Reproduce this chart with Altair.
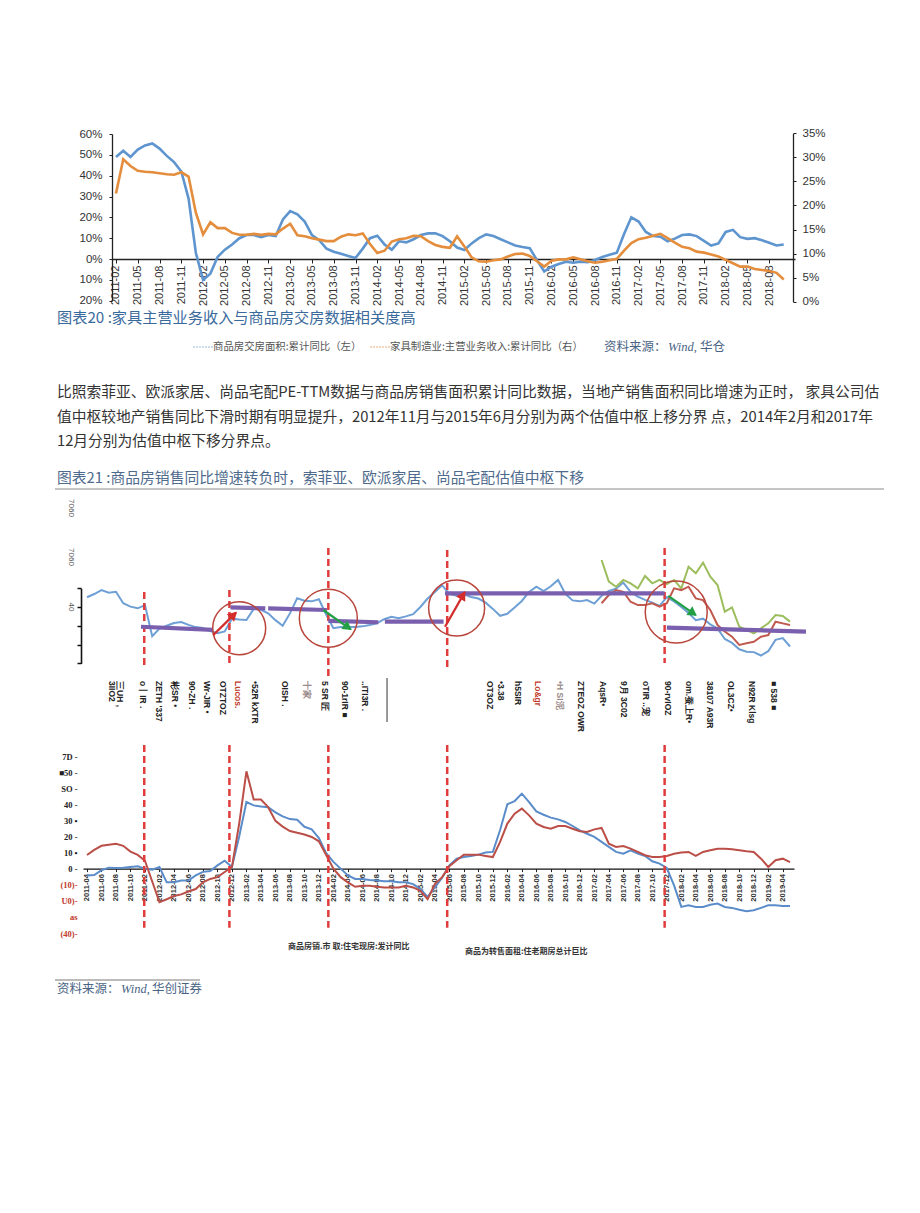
import json
import math
import altair as alt
import pandas as pd

W, H = 904, 1197
MARGIN = 8


def px(v):
    """page coordinate -> plot coordinate"""
    return v - MARGIN


CJK = "Noto Sans CJK SC"
SANS = "Liberation Sans"
SERIF = "Liberation Serif"

# ------------------------------------------------------------------ data: 图表20
top_months = []
for _y in range(2011, 2019):
    for _m in range(1, 13):
        _s = f"{_y}-{_m:02d}"
        if "2011-02" <= _s <= "2018-11":
            top_months.append(_s)
top_ticks = top_months[0:91:3]

# 商品房交房面积:累计同比 (左, %)
top_blue = [
    49, 52, 49, 52.5, 54.5, 55.5, 53, 49.5, 46.5, 42,
    29, 3, -10, -7, 1, 4.5, 7, 10, 11.5, 11.5,
    10.5, 11.5, 11, 19, 23, 21.5, 18, 11.5, 9, 5,
    3.5, 2.5, 1.5, 0.5, 5, 10, 11.2, 7, 4.5, 8.5,
    8, 9.5, 11.5, 12.3, 12.3, 11, 8.5, 5.5, 4.3, 7.5,
    10, 11.8, 11, 9.5, 8, 6.5, 5.8, 5.2, -0.5, -6,
    -3.7, -2.4, -1.3, -1.8, -1.3, -1.5, -0.5, 1, 2, 3,
    12, 20, 18, 13, 11, 10.7, 8.5, 9.8, 11.5, 11.8,
    11, 8.7, 6.5, 7.5, 13, 14, 10.5, 9.7, 10, 9,
    7.8, 6.5, 7,
]
# 家具制造业:主营业务收入:累计同比 (右, %)
top_orange = [
    22.5, 29.6, 28.2, 27.2, 27, 26.9, 26.7, 26.5, 26.4, 26.9,
    26, 18.5, 14, 16.5, 15.3, 15.3, 14.3, 13.9, 13.9, 14.1,
    13.9, 14.1, 14, 15.2, 16.2, 13.8, 13.6, 13.2, 12.9, 12.6,
    12.6, 13.5, 14, 13.8, 14.2, 12, 10.1, 10.6, 12.5, 13,
    13.2, 13.7, 13.6, 12.6, 11.8, 11.4, 11.2, 13.6, 11.5, 9.2,
    8.4, 8.3, 8.6, 8.8, 9.4, 9.9, 10, 9.5, 8.4, 7.3,
    8.5, 8.8, 8.8, 9.2, 8.8, 8.4, 8.1, 8.3, 8.6, 8.9,
    10.6, 12.2, 13, 13.3, 13.7, 14.1, 13.2, 12.3, 11.4, 11.1,
    10.4, 10.2, 9.8, 9.4, 8.7, 8, 7.3, 7.3, 6.8, 6.6,
    6.4, 6.0, 4.6,
]
top_left_ticks = [-20, -10, 0, 10, 20, 30, 40, 50, 60]
top_right_ticks = [0, 5, 10, 15, 20, 25, 30, 35]

# ------------------------------------------------------------------ data: 图表21
mb_months = []
for _y in range(2011, 2020):
    for _m in range(1, 13):
        _s = f"{_y}-{_m:02d}"
        if "2011-04" <= _s <= "2019-05":
            mb_months.append(_s)
mb_ticks = list(range(0, 97, 2))

# PE-TTM (upper panel)
mid_blue = [
    45.2, 46.9, 49, 47.6, 48.1, 42, 40.2, 39.3, 41, 24.5,
    28.5, 30, 31.5, 32, 30.5, 29.3, 28.8, 27.2, 26, 27,
    33.8, 33.3, 33.1, 39, 38.5, 36.6, 33, 30, 36.6, 44.6,
    43.3, 43, 44.1, 36, 28.7, 29.3, 29.3, 29.3, 29.7, 30.4,
    31.3, 33.5, 34.8, 34, 35, 36.2, 40, 44.5, 48, 51.5,
    47, 46, 46.8, 45.3, 44.5, 42.3, 39, 35.3, 36.4, 39.8,
    43.2, 48, 50.8, 48.5, 51, 54.4, 47, 43.5, 43, 43.7,
    41.8, 46, 48.5, 49.8, 53, 48, 45.5, 43.8, 42.3, 40.6,
    45.3, 43, 40, 36.8, 33, 33.8, 30.8, 28.6, 23, 20.9,
    17.5, 16.2, 16, 14.2, 16.5, 22.5, 23.5, 19,
]
mid_green = [None] * 71 + [
    65, 53.5, 50.8, 54.4, 52.6, 49.9, 56.5, 52.6, 54.4, 52.2,
    54.4, 49.9, 61.4, 57.9, 63.6, 56.1, 51.7, 37.5, 39.8, 29.5,
    27.8, 26, 28.7, 31.3, 35.7, 35.2, 32.2,
]
mid_brown = [None] * 71 + [
    42, 46.4, 49, 48.1, 42.8, 41, 41, 42, 40.2, 42,
    49.9, 49, 50.8, 44.6, 43.7, 38.4, 30.4, 27, 24.2, 19.8,
    20.7, 21.5, 24.2, 25.1, 32.2, 31.3, 30.4,
]
# valuation-centre segments (month index start/end, level start/end)
seg_start = [7.45, 19.8, 25.0, 33.3, 41.1, 49.4, 80.0]
seg_end = [17.4, 24.6, 33.1, 40.2, 49.2, 79.7, 99.2]
seg_v0 = [29.5, 39.8, 39.3, 32.6, 32.2, 47.3, 29.0]
seg_v1 = [27.8, 39.3, 38.4, 31.9, 32.2, 47.3, 26.9]
# dashed boundary lines (month index) and their extents
vline_pos = [7.9, 19.65, 33.3, 49.7, 79.7]
vline_mid_top = [48.0, 49.0, 71.4, 70.3, 71.4]
vline_mid_bot = [8.1, 10.2, 2.8, 8.1, 10.2]
vline_bot_top = [76.8, 76.8, 76.8, 76.8, 76.8]
vline_bot_bot = [-36.8, -36.8, -36.8, -36.8, -36.8]
# circles (month index, level)
circ_i = [21.0, 33.3, 51.0, 81.3]
circ_v = [28.7, 34.0, 39.5, 37.3]
# arrows (tail -> tip)
arr_i0 = [17.43, 49.4, 32.6, 80.2]
arr_v0 = [25.1, 29.5, 38.4, 45.9]
arr_i1 = [20.56, 52.15, 36.4, 84.0]
arr_v1 = [37.0, 48.1, 28.1, 35.7]
# garbled axis labels of the upper panel
mid_label_text = [
    "3IIO2", "三UH ,", "o丨IR .", "ZETH '337", "彬SR •", "90-ZH .", "Wr-JIR •",
    "OTZTOZ", "Lucos.", "•52R kXTR", "OISH   .", "十家", "5 SR 匠", "90-1rIR ■",
    "..ITI3R .",
    "OT3OZ", "•3.38", "h5SIR", "Lo&gr", "•H SI泥", "ZTEOZ OWR", "AqsR•",
    "9月  3C02", "oTIR ..宠", "90-rvIOZ", "om.蚕上R•", "38107 A93R", "OL3CZ•",
    "N92R Klsg", "■ 538 ■",
]
mid_label_pos = [
    3.4, 4.6, 7.7, 10.0, 12.2, 14.5, 16.5, 18.8, 20.9, 23.2, 27.3, 30.3, 32.9,
    35.6, 38.4,
    55.6, 57.1, 59.4, 62.2, 65.2, 68.1, 71.2, 74.1, 77.1, 80.1, 83.1, 86.0,
    88.8, 91.8, 94.8,
]
mid_side_text = ["7060", "7060", "40"]
mid_side_val = [92.7, 66.6, 40]
mid_sep_pos = [41.4]

# 商品房销售面积 (lower panel)
bot_blue = [
    -4.2, -4, -1, 0.6, 0.4, 0.6, 1, 1.5, 0, -0.6,
    1, -8.5, -8.5, -7.4, -7.4, -4.2, -2, -1.5, 2, 4.9,
    1, 20, 41.4, 39.3, 38.6, 38.2, 35, 32.5, 30.8, 30.4,
    26, 24.4, 19, 9.6, 4.2, 0, -4.2, -6.4, -6.4, -7,
    -7.4, -7.9, -7.9, -8.5, -8.5, -9.6, -12.7, -17.6, -11.7, -5.7,
    2, 6.2, 7.2, 7.9, 8.7, 10, 10.4, 24, 40, 42,
    46.6, 41.4, 35.6, 33.5, 31.7, 30.6, 29, 26.5, 23.8, 21.7,
    19.7, 16.6, 13.5, 10.4, 9.3, 11.4, 9.3, 7.9, 4.6, 3.1,
    0.4, -10.4, -23.8, -22.8, -23.8, -23.8, -22.4, -21.7, -23.8, -24.4,
    -25.5, -26.5, -25.9, -24.4, -22.8, -22.8, -23.2, -23.2,
]
bot_red = [
    8.5, 11.7, 14.2, 14.9, 15.5, 14.2, 10.6, 8.5, 4.9, -8,
    -20.8, -19, -17, -16, -14.2, -12.7, -8.5, -6.4, -5.3, -2.1,
    1, 28, 60.5, 42.9, 42.9, 38.2, 29.7, 26.1, 23.4, 22.3,
    21.2, 19.7, 17, 8.5, 0, -5.3, -8.5, -11.3, -10.6, -10.6,
    -11.3, -11.7, -11.7, -11.7, -10.6, -11.7, -13.8, -19, -9.6, -5.3,
    1.5, 5.2, 8.7, 8.7, 8.7, 7.9, 7.2, 16.6, 28, 34.2,
    37.3, 33.1, 28, 25.9, 24.8, 26.5, 26.5, 24.8, 23.2, 22.8,
    24.4, 25.3, 15.5, 13.5, 14.1, 12.4, 10.4, 8.3, 7.2, 7.2,
    7.9, 9.3, 10, 10.4, 7.9, 10.4, 11.4, 12.4, 12.4, 12,
    11.4, 10.8, 10.4, 6.2, 1, 5.2, 6.2, 4.1,
]
bot_y_ticks = [70, 60, 50, 40, 30, 20, 10, 0, -10, -20, -30, -40]
bot_y_labels = ["7D -", "■50 -", "SO -", "40 -", "30 •", "20 -", "10 •", "0 -",
                "(10)-", "U0)-", "as", "(40)-"]

# ------------------------------------------------------------------ styles
C_TOP_BLUE = "#5f95cf"
C_TOP_ORANGE = "#e48d3c"
C_MID_BLUE = "#6e9fd5"
C_GREEN = "#9cbd5c"
C_BROWN = "#c05a4e"
C_PURPLE = "#7a5fae"
C_DASH = "#e03c3c"
C_CIRCLE = "#b8463c"
C_BOT_BLUE = "#5b8cca"
C_BOT_RED = "#bb4f48"
CIRCLE_DIAM = [53, 58, 56, 62]
ARROW_COLORS = ["#d42b2b", "#d42b2b", "#23a046", "#23a046"]
RED_LABELS = {"Lucos.", "Lo&gr"}
GRAY_LABELS = {"十家", "•H SI泥"}

XS_TOP = alt.Scale(type="point", domain=top_months, range=[px(112), px(795)], padding=0.55)
YL_TOP = alt.Scale(domain=[-20, 60], range=[px(300.7), px(134)], nice=False, zero=False)
YR_TOP = alt.Scale(domain=[0, 35], range=[px(301.7), px(133.3)], nice=False, zero=False)
XS_MB = alt.Scale(domain=[-0.55, 97.55], range=[px(83), px(794)], nice=False, zero=False)
YS_MID = alt.Scale(domain=[10, 50], range=[px(663.4), px(588.2)], nice=False, zero=False)
YS_BOT = alt.Scale(domain=[-40, 70], range=[px(933), px(756)], nice=False, zero=False)

PX_PER_MONTH = (794 - 83) / 98.1
PX_PER_UNIT_MID = (663.4 - 588.2) / 40


def txt(s, x, y, size, color="#333333", font=CJK, weight="normal", style=None,
        align="left", baseline="middle", angle=None):
    mk = dict(align=align, baseline=baseline, fontSize=size, font=font,
              color=color, fontWeight=weight)
    if style:
        mk["fontStyle"] = style
    if angle is not None:
        mk["angle"] = angle
    return alt.Chart(pd.DataFrame({"t": [s]})).mark_text(**mk).encode(
        x=alt.value(px(x)), y=alt.value(px(y)), text="t:N")


def hline(x1, x2, y, color, width=1.0, dash=None):
    mk = dict(color=color, strokeWidth=width)
    if dash:
        mk["strokeDash"] = dash
    return alt.Chart(pd.DataFrame({"a": [0]})).mark_rule(**mk).encode(
        x=alt.value(px(x1)), x2=alt.value(px(x2)), y=alt.value(px(y)))


# ------------------------------------------------------------------ chart 20
df_top = pd.DataFrame({"month": top_months[:len(top_blue)], "blue": top_blue,
                       "orange": top_orange})

top_x_axis = alt.Axis(orient="bottom", offset=-(H - px(259)), values=top_ticks,
                      labelAngle=270, labelFontSize=11, labelFont=SANS,
                      labelColor="#333333", tickSize=4, tickColor="#222222",
                      domainColor="#222222", domainWidth=1.3, labelPadding=2,
                      title=None, grid=False, labelOverlap=False)
top_left_axis = alt.Axis(orient="left", offset=-px(112), values=top_left_ticks,
                         labelExpr="abs(datum.value) + '%'", labelFontSize=11.5,
                         labelFont=SANS, labelColor="#333333", tickSize=3,
                         tickColor="#222222", domainColor="#222222", domainWidth=1.3,
                         labelPadding=7, title=None, grid=False, labelOverlap=False)
top_right_axis = alt.Axis(orient="right", offset=-(W - px(793)), values=top_right_ticks,
                          labelExpr="datum.value + '%'", labelFontSize=11.5,
                          labelFont=SANS, labelColor="#333333", tickSize=3,
                          tickColor="#222222", domainColor="#222222", domainWidth=1.3,
                          labelPadding=6, title=None, grid=False, labelOverlap=False)

top_layers = [
    # x axis carried by an invisible helper layer so it is drawn once
    alt.Chart(df_top).mark_line(color=C_TOP_BLUE, strokeWidth=2.6).encode(
        x=alt.X("month:O", scale=XS_TOP, axis=top_x_axis),
        y=alt.Y("blue:Q", scale=YL_TOP, axis=top_left_axis)),
    alt.Chart(df_top).mark_line(color=C_TOP_ORANGE, strokeWidth=2.6).encode(
        x=alt.X("month:O", scale=XS_TOP, axis=None),
        y=alt.Y("orange:Q", scale=YR_TOP, axis=top_right_axis)),
]

# ------------------------------------------------------------------ chart 21 upper
df_mid = pd.DataFrame({"i": list(range(len(mb_months))), "blue": mid_blue,
                       "green": mid_green, "brown": mid_brown})
mid_y_axis = alt.Axis(orient="left", offset=-px(81), values=[10, 20, 30, 40, 50],
                      labels=False, tickSize=4, tickColor="#111111", tickWidth=1.5,
                      domainColor="#111111", domainWidth=1.6, title=None, grid=False)

X_MID = alt.X("i:Q", scale=XS_MB, axis=None)

mid_layers = []
mid_layers.append(alt.Chart(df_mid).mark_line(color=C_MID_BLUE, strokeWidth=2).encode(
    x=X_MID, y=alt.Y("blue:Q", scale=YS_MID, axis=mid_y_axis)))
mid_layers.append(alt.Chart(df_mid).mark_line(color=C_GREEN, strokeWidth=2).encode(
    x=X_MID, y=alt.Y("green:Q", scale=YS_MID, axis=None)))
mid_layers.append(alt.Chart(df_mid).mark_line(color=C_BROWN, strokeWidth=2).encode(
    x=X_MID, y=alt.Y("brown:Q", scale=YS_MID, axis=None)))

df_vl = pd.DataFrame({"i": vline_pos, "mt": vline_mid_top, "mb": vline_mid_bot,
                      "bt": vline_bot_top, "bb": vline_bot_bot})
mid_layers.append(alt.Chart(df_vl).mark_rule(color=C_DASH, strokeWidth=2.5,
                                              strokeDash=[7, 4]).encode(
    x=X_MID, y=alt.Y("mt:Q", scale=YS_MID, axis=None), y2="mb:Q"))

df_seg = pd.DataFrame({"s": seg_start, "e": seg_end, "v0": seg_v0, "v1": seg_v1})
mid_layers.append(alt.Chart(df_seg).mark_rule(color=C_PURPLE, strokeWidth=4.2).encode(
    x=alt.X("s:Q", scale=XS_MB, axis=None), x2="e:Q",
    y=alt.Y("v0:Q", scale=YS_MID, axis=None), y2="v1:Q"))

for ci, cv, d in zip(circ_i, circ_v, CIRCLE_DIAM):
    mid_layers.append(alt.Chart(pd.DataFrame({"i": [ci], "v": [cv]})).mark_point(
        shape="circle", filled=False, color=C_CIRCLE, strokeWidth=1.5, opacity=1,
        size=d * d).encode(x=X_MID, y=alt.Y("v:Q", scale=YS_MID, axis=None)))

df_arr = pd.DataFrame({"i0": arr_i0, "v0": arr_v0, "i1": arr_i1, "v1": arr_v1})
df_arr["c"] = ARROW_COLORS
_ang, _hi, _hv = [], [], []
for a0, b0, a1, b1 in zip(arr_i0, arr_v0, arr_i1, arr_v1):
    dx = (a1 - a0) * PX_PER_MONTH
    dy = -(b1 - b0) * PX_PER_UNIT_MID
    _ang.append(math.degrees(math.atan2(dx, -dy)) % 360)
    _hi.append(a0 + 0.9 * (a1 - a0))
    _hv.append(b0 + 0.9 * (b1 - b0))
df_arr["ang"] = _ang
df_arr["hi"] = _hi
df_arr["hv"] = _hv
mid_layers.append(alt.Chart(df_arr).mark_rule(strokeWidth=2.3).encode(
    x=alt.X("i0:Q", scale=XS_MB, axis=None), x2="i1:Q",
    y=alt.Y("v0:Q", scale=YS_MID, axis=None), y2="v1:Q",
    color=alt.Color("c:N", scale=None)))
mid_layers.append(alt.Chart(df_arr).mark_point(shape="triangle-up", filled=True,
                                                size=110, opacity=1).encode(
    x=alt.X("hi:Q", scale=XS_MB, axis=None),
    y=alt.Y("hv:Q", scale=YS_MID, axis=None),
    angle=alt.Angle("ang:Q", scale=None),
    color=alt.Color("c:N", scale=None)))

_lab_colors = ["#c0392b" if t in RED_LABELS else ("#9a8a8a" if t in GRAY_LABELS else "#222222")
               for t in mid_label_text]
df_lab = pd.DataFrame({"t": mid_label_text, "i": mid_label_pos, "c": _lab_colors})
mid_layers.append(alt.Chart(df_lab).mark_text(angle=90, align="left", baseline="middle",
                                               fontSize=8.5, fontWeight="bold",
                                               font=SANS).encode(
    x=X_MID, y=alt.value(px(681)), text="t:N", color=alt.Color("c:N", scale=None)))
mid_layers.append(alt.Chart(pd.DataFrame({"i": mid_sep_pos})).mark_rule(
    color="#333333", strokeWidth=1).encode(
    x=X_MID, y=alt.value(px(678)), y2=alt.value(px(722))))
df_side = pd.DataFrame({"t": mid_side_text, "v": mid_side_val})
mid_layers.append(alt.Chart(df_side).mark_text(angle=90, align="center", baseline="middle",
                                                fontSize=8, font=SANS,
                                                color="#555555").encode(
    x=alt.value(px(71)), y=alt.Y("v:Q", scale=YS_MID, axis=None), text="t:N"))

# ------------------------------------------------------------------ chart 21 lower
df_bot = pd.DataFrame({"i": list(range(len(mb_months))), "blue": bot_blue, "red": bot_red})

_lbl_expr = "''"
for v, s in zip(reversed(bot_y_ticks), reversed(bot_y_labels)):
    _lbl_expr = f"datum.value == {v} ? {json.dumps(s)} : ({_lbl_expr})"

bot_x_axis = alt.Axis(orient="bottom", offset=-(H - px(868.6)), values=mb_ticks,
                      labelExpr=f"{json.dumps(mb_months)}[datum.value]",
                      labelAngle=270, labelFontSize=7.5, labelFontWeight="bold",
                      labelFont=SANS, labelColor="#333333", tickSize=3,
                      tickColor="#222222", domainColor="#111111", domainWidth=1.3,
                      labelPadding=2, title=None, grid=False, labelOverlap=False,
                      labelFlush=False)
bot_y_axis = alt.Axis(orient="left", offset=-px(79), values=bot_y_ticks,
                      labelExpr=_lbl_expr, labelFontSize=8.5, labelFontWeight="bold",
                      labelFont=SERIF,
                      labelColor={"condition": {"test": "datum.value < 0",
                                                "value": "#c0392b"},
                                  "value": "#222222"},
                      domain=False, ticks=False, labelPadding=2, title=None,
                      grid=False, labelOverlap=False)

bot_layers = [
    alt.Chart(df_bot).mark_line(color=C_BOT_BLUE, strokeWidth=2).encode(
        x=alt.X("i:Q", scale=XS_MB, axis=bot_x_axis),
        y=alt.Y("blue:Q", scale=YS_BOT, axis=bot_y_axis)),
    alt.Chart(df_bot).mark_line(color=C_BOT_RED, strokeWidth=2).encode(
        x=alt.X("i:Q", scale=XS_MB, axis=None),
        y=alt.Y("red:Q", scale=YS_BOT, axis=None)),
    alt.Chart(df_vl).mark_rule(color=C_DASH, strokeWidth=2.5, strokeDash=[7, 4]).encode(
        x=alt.X("i:Q", scale=XS_MB, axis=None),
        y=alt.Y("bt:Q", scale=YS_BOT, axis=None), y2="bb:Q"),
]

# ------------------------------------------------------------------ page text
page = [
    txt("图表20 :家具主营业务收入与商品房交房数据相关度高", 57, 318, 15.2, "#3a6a9c"),
    hline(193, 213, 347, "#9dbadb", 1.2, [2, 1]),
    txt("商品房交房面积:累计同比（左）", 213, 347, 10.4, "#555555"),
    hline(370, 390, 347, "#e8ae7c", 1.2, [2, 1]),
    txt("家具制造业:主营业务收入:累计同比（右）", 390, 347, 10.4, "#555555"),
    txt("资料来源：", 604, 347, 12.5, "#4a6484"),
    txt("Wind,", 668, 347, 12.5, "#4a6484", font=SERIF, style="italic"),
    txt("华仓", 700, 347, 12.5, "#4a6484"),
    txt("比照索菲亚、欧派家居、尚品宅配PE-TTM数据与商品房销售面积累计同比数据，当地产销售面积同比增速为正时， 家具公司估",
        57, 393, 14.75, "#333333"),
    txt("值中枢较地产销售同比下滑时期有明显提升，2012年11月与2015年6月分别为两个估值中枢上移分界 点，2014年2月和2017年",
        57, 418, 14.75, "#333333"),
    txt("12月分别为估值中枢下移分界点。", 57, 442, 14.75, "#333333"),
    txt("图表21 :商品房销售同比增速转负时，索菲亚、欧派家居、尚品宅配估值中枢下移", 57, 479, 14.8,
        "#4e6a8c"),
    hline(55, 884, 489, "#8a8a8a", 1),
    txt("商品房销.市 取:住宅现房:发计同比", 288, 947, 8, "#333333", weight="bold"),
    txt("商品为转售面租:住老期房总计巨比", 465, 952, 8, "#333333", weight="bold"),
    hline(55, 200, 980, "#777777", 1),
    txt("资料来源：", 57, 989, 12.5, "#4a6484"),
    txt("Wind,", 121, 989, 12.5, "#4a6484", font=SERIF, style="italic"),
    txt("华创证券", 152, 989, 12.5, "#4a6484"),
]

chart = alt.layer(*page, *top_layers, *mid_layers, *bot_layers).resolve_scale(
    x="independent", y="independent"
).properties(
    width=W, height=H, autosize=alt.AutoSizeParams(type="none"), padding=0
).configure_view(stroke=None)

chart.save("out.html", embed_options={"renderer": "svg", "actions": False})
